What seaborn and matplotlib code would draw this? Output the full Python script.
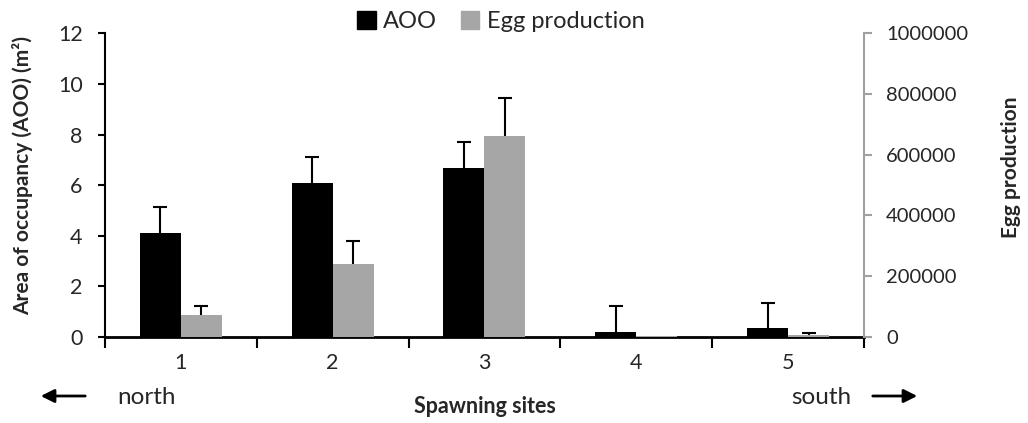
import numpy as np
import pandas as pd
import matplotlib
matplotlib.use('Agg')
import matplotlib.pyplot as plt
import seaborn as sns

# data
sites = ['1', '2', '3', '4', '5']
aoo = [4.1, 6.08, 6.69, 0.19, 0.33]
aoo_err = [1.03, 1.02, 1.01, 1.03, 1.01]
egg = [71500, 239600, 661500, 2000, 4000]
egg_err = [29500, 76900, 124300, np.nan, 7000]
series = ['AOO', 'Egg production']

sns.set_style('white')
plt.rcParams['font.family'] = ['Lato', 'DejaVu Sans']

df_aoo = pd.DataFrame({'site': sites, 'value': aoo, 'series': series[0]})
df_egg = pd.DataFrame({'site': sites, 'value': egg, 'series': series[1]})
pal = {'AOO': '#000000', 'Egg production': '#a6a6a6'}

fig = plt.figure(figsize=(10.28, 4.23), dpi=100)
ax = fig.add_axes([0.102, 0.204, 0.7385, 0.717])
ax2 = ax.twinx()

sns.barplot(data=df_aoo, x='site', y='value', hue='series', hue_order=series,
            palette=pal, width=0.54, dodge=True, ax=ax, legend=False, saturation=1,
            linewidth=0)
sns.barplot(data=df_egg, x='site', y='value', hue='series', hue_order=series,
            palette=pal, width=0.54, dodge=True, ax=ax2, legend=False, saturation=1,
            linewidth=0)

# upper error bars at the bar centres
xs1 = [p.get_x() + p.get_width() / 2 for p in ax.patches]
xs2 = [p.get_x() + p.get_width() / 2 for p in ax2.patches]
for a, xs, vals, errs in [(ax, xs1, aoo, aoo_err), (ax2, xs2, egg, egg_err)]:
    eb = a.errorbar(xs, vals, yerr=[np.zeros(5), errs], fmt='none', ecolor='black',
                    elinewidth=1.5, capsize=5, capthick=1.5)
    eb[1][0].set_visible(False)  # no lower caps

ax.set_xlim(-0.5, 4.5)
ax.set_ylim(0, 12)
ax.set_yticks(range(0, 13, 2))
ax2.set_ylim(0, 1000000)
ax2.set_yticks(range(0, 1000001, 200000))
ax2.set_yticklabels([str(v) for v in range(0, 1000001, 200000)])

ax.spines['top'].set_visible(False)
ax2.spines['top'].set_visible(False)
ax.spines['right'].set_visible(False)
ax2.spines['left'].set_visible(False)
ax2.spines['bottom'].set_visible(False)
ax.spines['left'].set_color('black')
ax.spines['left'].set_linewidth(1.5)
ax.spines['bottom'].set_color('black')
ax.spines['bottom'].set_linewidth(2)
ax2.spines['right'].set_color('#a0a0a0')
ax2.spines['right'].set_linewidth(1.5)

ax.set_xticks(range(5))
ax.set_xticklabels(sites)
ax.set_xticks(np.arange(-0.5, 5, 1), minor=True)
ax.tick_params(axis='x', which='major', length=0, pad=12, labelsize=15.5)
ax.tick_params(axis='x', which='minor', length=8, width=1.5, color='black', direction='out', bottom=True)
ax.tick_params(axis='y', length=5, width=1.5, color='black', direction='out', left=True, labelsize=15.5, pad=11)
ax2.tick_params(axis='y', length=6, width=1.5, color='#a0a0a0', direction='out', right=True, labelsize=14.5, pad=10)

ax.set_xlabel('Spawning sites', fontsize=15.5, fontweight='bold')
ax.set_ylabel('Area of occupancy (AOO) (m²)', fontsize=15, fontweight='bold')
ax2.set_ylabel('Egg production', fontsize=15, fontweight='bold')
ax.xaxis.set_label_coords(0.5, -0.195)
ax.yaxis.set_label_coords(-0.095, 0.53)
ax2.yaxis.set_label_coords(1.18, 0.56)

handles = [plt.Rectangle((0, 0), 1, 1, color=pal[s]) for s in series]
fig.legend(handles, series, loc='upper center', bbox_to_anchor=(0.487, 1.025), ncol=2,
           frameon=False, fontsize=17, handlelength=0.8, handleheight=0.8,
           handletextpad=0.3, columnspacing=1.0)

# north / south arrows
fig.text(117 / 1028, 26 / 423, 'north', fontsize=17.5, va='center', ha='left')
fig.text(851 / 1028, 26 / 423, 'south', fontsize=17.5, va='center', ha='right')
fig.add_artist(plt.Annotation('', xy=(38 / 1028, 27 / 423), xytext=(88 / 1028, 27 / 423),
                              xycoords='figure fraction', textcoords='figure fraction',
                              arrowprops=dict(arrowstyle='-|>', color='black', lw=2, mutation_scale=20)))
fig.add_artist(plt.Annotation('', xy=(920 / 1028, 27 / 423), xytext=(870 / 1028, 27 / 423),
                              xycoords='figure fraction', textcoords='figure fraction',
                              arrowprops=dict(arrowstyle='-|>', color='black', lw=2, mutation_scale=20)))

fig.savefig('out.png', dpi=100)
